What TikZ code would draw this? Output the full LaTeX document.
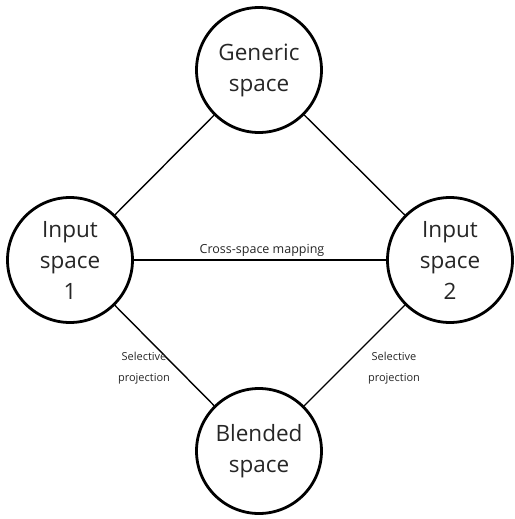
\documentclass[tikz,border=0pt]{standalone}
\usepackage{fontspec}
\setmainfont{Open Sans}
\begin{document}
\begin{tikzpicture}[x=1pt,y=-1pt,
  space/.style={circle,draw=black,line width=2.8pt,minimum size=125pt,inner sep=0pt,
    align=center,font=\fontsize{22.5}{31}\selectfont,text=black!85},
  link/.style={draw=black,line width=1.4pt},
  lbl/.style={font=\fontsize{11}{21}\selectfont,text=black!85,align=center,inner sep=0pt}]
\useasboundingbox (0,0) rectangle (514,519);
\node[space] (gen) at (259,70) {Generic\\space};
\node[space] (in1) at (70,260) {Input\\space\\1};
\node[space] (in2) at (450,260) {Input\\space\\2};
\node[space] (bl) at (259,451) {Blended\\space};
\draw[link] (gen) -- (in1);
\draw[link] (gen) -- (in2);
\draw[link] (in1) -- (in2);
\draw[link] (in1) -- (bl);
\draw[link] (in2) -- (bl);
\node[lbl,font=\fontsize{12.5}{15}\selectfont] (csm) at (262,250) {Cross-space mapping};
\node[lbl] (sp1) at (144,368) {Selective\\projection};
\node[lbl] (sp2) at (394,368) {Selective\\projection};
\end{tikzpicture}
\end{document}
